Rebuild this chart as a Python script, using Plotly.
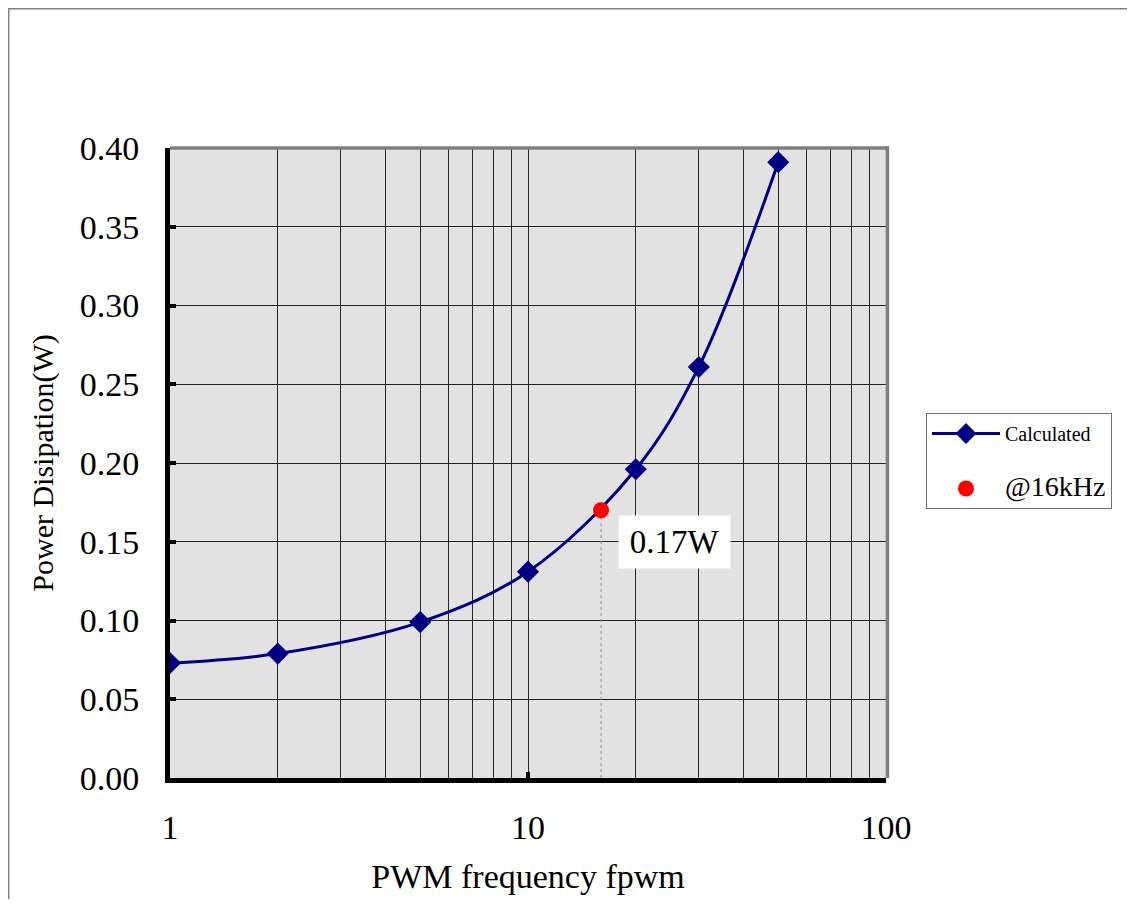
import numpy as np
import plotly.graph_objects as go

freq_khz = [1, 2, 5, 10, 20, 30, 50]
power_w = [0.073, 0.079, 0.099, 0.131, 0.196, 0.261, 0.391]
mark_freq = [16]
mark_power = [0.170]
x_tick_vals = [1, 10, 100]
x_tick_text = ["1", "10", "100"]
y_tick_vals = [0.0, 0.05, 0.10, 0.15, 0.20, 0.25, 0.30, 0.35, 0.40]
y_tick_text = ["0.00", "0.05", "0.10", "0.15", "0.20", "0.25", "0.30", "0.35", "0.40"]
minor_x = [m * d for d in (1, 10) for m in range(2, 10)]

# page has an 8px body margin; figure sized to fit the viewport
OFF = 8
W, H = 1135 - 2 * OFF, 907 - 2 * OFF
L = 170 - OFF
T = 148 - OFF
R = W - (886 - OFF)
B = H - (778 - OFF)
pw, ph = W - L - R, H - T - B

def px2paper_x(px):
    return (px - OFF - L) / pw

def px2paper_y(py):
    return (H - B - (py - OFF)) / ph

FONT = "Liberation Serif, Times New Roman, serif"
NAVY = "#000080"

fig = go.Figure()

fig.add_trace(go.Scatter(
    x=[mark_freq[0], mark_freq[0]], y=[0, mark_power[0]],
    mode="lines", line=dict(color="#8a8a8a", width=1, dash="dot"),
    showlegend=False, hoverinfo="skip",
))

fig.add_trace(go.Scatter(
    x=freq_khz, y=power_w, name="Calculated",
    mode="lines+markers",
    line=dict(color=NAVY, width=3, shape="spline", smoothing=1),
    marker=dict(symbol="diamond", size=17, color=NAVY),
    legendgroup="a",
))

fig.add_trace(go.Scatter(
    x=mark_freq, y=mark_power, name="<span style='font-size:28px'>@16kHz</span>",
    mode="markers",
    marker=dict(symbol="circle", size=16, color="#ff0000"),
    legendgroup="b",
))

fig.add_annotation(
    x=np.log10(mark_freq[0]), y=mark_power[0], xref="x", yref="y",
    text="0.17W", showarrow=False, xanchor="left", yanchor="top",
    xshift=17, yshift=-5, bgcolor="white", borderpad=5,
    width=101, height=42, align="center",
    font=dict(family=FONT, size=33, color="black"),
)

shapes = [
    # outer chart border (left/top visible)
    dict(type="rect", xref="paper", yref="paper",
         x0=px2paper_x(8.7), x1=px2paper_x(1160), y0=px2paper_y(930), y1=px2paper_y(8.7),
         line=dict(color="#808080", width=1.5), fillcolor="rgba(0,0,0,0)", layer="below"),
    # top and right frame (gray)
    dict(type="line", xref="paper", yref="paper", x0=0, x1=1.004, y0=1, y1=1,
         line=dict(color="#808080", width=3.5), layer="above"),
    dict(type="line", xref="paper", yref="paper", x0=1.002, x1=1.002, y0=0, y1=1.003,
         line=dict(color="#808080", width=3.5), layer="above"),
]

fig.update_layout(
    width=W, height=H,
    margin=dict(l=L, r=R, t=T, b=B, autoexpand=False),
    paper_bgcolor="white",
    plot_bgcolor="#e2e2e2",
    font=dict(family=FONT, size=34, color="black"),
    shapes=shapes,
    legend=dict(
        x=px2paper_x(926), y=px2paper_y(413), xanchor="left", yanchor="top",
        bordercolor="#707070", borderwidth=1, bgcolor="white",
        font=dict(family=FONT, size=20, color="black"),
        traceorder="grouped", tracegroupgap=26, itemwidth=68,
    ),
    xaxis=dict(
        type="log", range=[0, 2], automargin=False,
        tickvals=x_tick_vals, ticktext=x_tick_text,
        ticks="inside", ticklen=6, tickwidth=4, tickcolor="black",
        showgrid=True, gridcolor="#262626", gridwidth=1,
        minor=dict(tickvals=minor_x, showgrid=True, gridcolor="#262626", gridwidth=1, ticks=""),
        showline=True, linecolor="black", linewidth=5,
        zeroline=False,
        ticklabelstandoff=15,
        tickfont=dict(family=FONT, size=34),
        title=dict(text="PWM frequency fpwm", font=dict(family=FONT, size=34), standoff=21),
    ),
    yaxis=dict(
        range=[0, 0.40], automargin=False,
        tickvals=y_tick_vals, ticktext=y_tick_text,
        ticks="inside", ticklen=6, tickwidth=4, tickcolor="black",
        showgrid=True, gridcolor="#262626", gridwidth=1,
        showline=True, linecolor="black", linewidth=5,
        zeroline=False,
        ticklabelstandoff=19,
        tickfont=dict(family=FONT, size=34),
        title=dict(text="Power Disipation(W)", font=dict(family=FONT, size=30), standoff=19),
    ),
)

fig.write_html("out.html")
